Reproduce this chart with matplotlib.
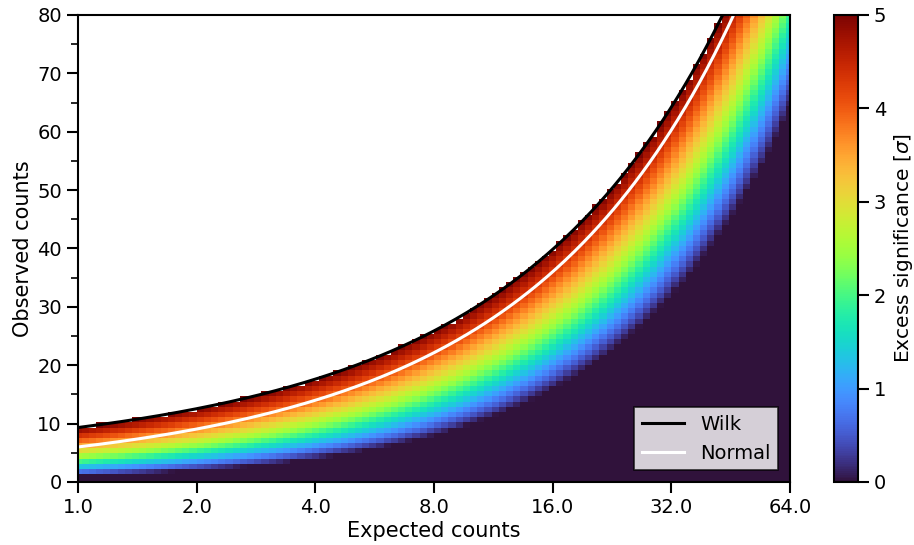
"""Poisson excess significance map with 5 sigma curves."""
import matplotlib
matplotlib.use('Agg')
import matplotlib.pyplot as plt
from matplotlib.ticker import FormatStrFormatter, MultipleLocator
import numpy as np

SIGMA_MAX = 5.0
EXPECTED_RANGE = [1.0, 64.0]
OBSERVED_RANGE = [0.0, 80.0]
NUM_EXPECTED = 100
NUM_OBSERVED = 91
X_TICKS = [1, 2, 4, 8, 16, 32, 64]
Y_TICKS = [0, 10, 20, 30, 40, 50, 60, 70, 80]
CBAR_TICKS = [0, 1, 2, 3, 4, 5]

expected = np.logspace(np.log2(EXPECTED_RANGE[0]), np.log2(EXPECTED_RANGE[1]),
                       NUM_EXPECTED, base=2)
observed = np.linspace(OBSERVED_RANGE[0], OBSERVED_RANGE[1], NUM_OBSERVED)


def wilk_significance(n, mu):
    n = np.asarray(n, dtype=float)
    with np.errstate(divide='ignore', invalid='ignore'):
        term = np.where(n > 0, n * np.log(n / mu), 0.0)
    ts = 2 * (term - (n - mu))
    return np.sign(n - mu) * np.sqrt(np.clip(ts, 0, None))


def wilk_curve(mu, sigma):
    lo = mu.copy()
    hi = mu + 20 * np.sqrt(mu) + 50
    for _ in range(80):
        mid = 0.5 * (lo + hi)
        above = wilk_significance(mid, mu) > sigma
        hi = np.where(above, mid, hi)
        lo = np.where(above, lo, mid)
    return 0.5 * (lo + hi)


mu_grid, n_grid = np.meshgrid(expected, observed)
significance = np.clip(wilk_significance(n_grid, mu_grid), 0, None)
significance = np.ma.masked_where(significance > SIGMA_MAX, significance)

mu_line = np.logspace(0, 6, 400, base=2)
wilk_line = wilk_curve(mu_line, SIGMA_MAX)
normal_line = mu_line + SIGMA_MAX * np.sqrt(mu_line)

fig = plt.figure(figsize=(9.14, 5.45), dpi=100)
ax = fig.add_axes([0.0853, 0.1156, 0.779, 0.857])
cax = fig.add_axes([0.9125, 0.1156, 0.026, 0.857])

mesh = ax.pcolormesh(expected, observed, significance, cmap='turbo',
                     vmin=0, vmax=SIGMA_MAX, shading='nearest', rasterized=True)
ax.plot(mu_line, wilk_line, color='k', lw=2.2, label='Wilk')
ax.plot(mu_line, normal_line, color='w', lw=2.2, label='Normal')

ax.set_xscale('log', base=2)
ax.set_xlim(EXPECTED_RANGE)
ax.set_ylim(OBSERVED_RANGE)
ax.set_xticks(X_TICKS)
ax.xaxis.set_major_formatter(FormatStrFormatter('%.1f'))
ax.xaxis.set_minor_locator(plt.NullLocator())
ax.set_yticks(Y_TICKS)
ax.yaxis.set_minor_locator(MultipleLocator(5))
ax.tick_params(which='major', length=8, width=1.5, labelsize=14)
ax.tick_params(which='minor', length=5, width=1.2)
for spine in ax.spines.values():
    spine.set_linewidth(1.5)
ax.set_xlabel('Expected counts', fontsize=15, labelpad=3)
ax.set_ylabel('Observed counts', fontsize=15, labelpad=3)

leg = ax.legend(loc='lower right', fontsize=14, fancybox=False,
                edgecolor='k', framealpha=0.8, handlelength=2.2,
                borderaxespad=0.6)
leg.get_frame().set_linewidth(1.2)

cbar = fig.colorbar(mesh, cax=cax, ticks=CBAR_TICKS)
cbar.outline.set_linewidth(1.5)
cbar.ax.tick_params(length=8, width=1.5, labelsize=14)
cbar.set_label(r'Excess significance [$\sigma$]', fontsize=14.5, labelpad=4)

fig.savefig('out.png', dpi=100)
